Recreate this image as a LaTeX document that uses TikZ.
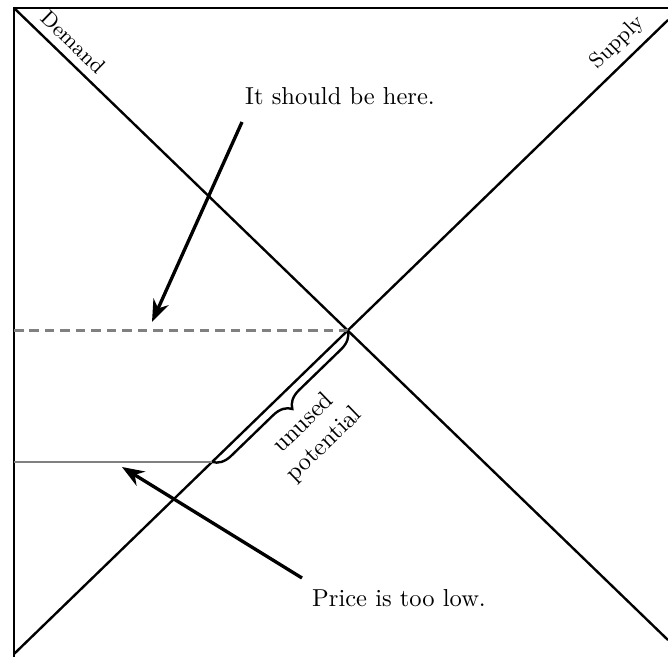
\documentclass[tikz,border=0pt]{standalone}
\usetikzlibrary{arrows.meta,decorations.pathreplacing}

\begin{document}
\begin{tikzpicture}[
  x=0.42pt, y=-0.42pt,
  curve/.style={line width=1pt},
  price/.style={line width=1pt, gray},
  tag/.style={font=\small, sloped, above},
  gap/.style={decorate, decoration={brace, amplitude=7.5pt}, line width=1pt},
  ar/.style={-{Stealth}, line width=1.4pt}
]
\useasboundingbox (0,0) rectangle (668,656);
\clip (0,0) rectangle (668,656);
\draw[line width=1pt] (14,8) rectangle (700,659);
\coordinate (dtop) at (14,8);
\coordinate (dbot) at (668,640);
\coordinate (sbot) at (14,654);
\coordinate (stop) at (668,20);
\coordinate (eq) at (347.7,330.5);
\coordinate (low) at (212,462);
\coordinate (pe) at (14,330.5);
\coordinate (pl) at (14,462);
\draw[curve] (dtop) -- (dbot) node[tag, pos=0.073] {Demand};
\draw[curve] (sbot) -- (stop) node[tag, pos=0.943] {Supply};
\draw[price, dash pattern=on 4pt off 2.5pt] (pe) -- (eq);
\draw[price] (pl) -- (low);
\draw[gap] (eq) -- (low);
\node[rotate=44, align=center, font=\fontsize{10.3}{12.4}\selectfont] (unused) at (314,434) {unused\\potential};
\node[font=\fontsize{10.3}{12.4}\selectfont] (here) at (340,96) {It should be here.};
\node[font=\fontsize{10.3}{12.4}\selectfont] (toolow) at (399,598) {Price is too low.};
\coordinate (h1) at (242,122);
\coordinate (h2) at (152,322);
\coordinate (l1) at (302,578);
\coordinate (l2) at (122,467);
\draw[ar] (h1) -- (h2);
\draw[ar] (l1) -- (l2);
\end{tikzpicture}
\end{document}
